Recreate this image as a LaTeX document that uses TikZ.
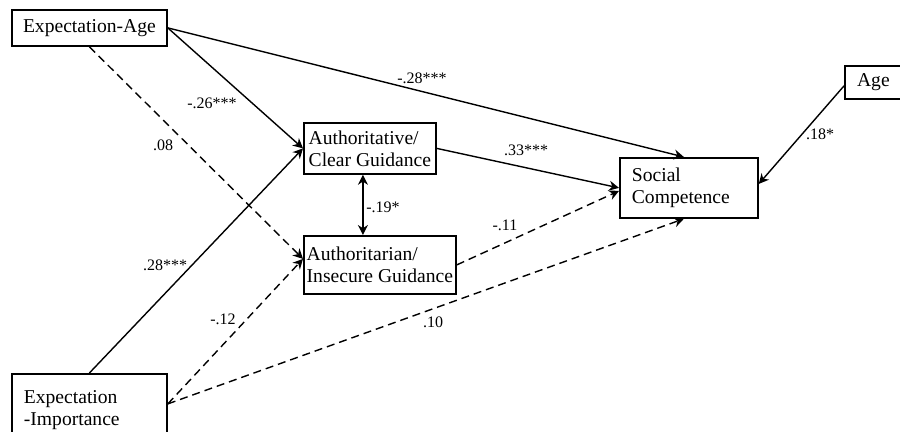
\documentclass[tikz,border=0pt]{standalone}
\usepackage{fontspec}
\setmainfont{Liberation Serif}
\usetikzlibrary{arrows.meta}

\tikzset{
  varbox/.style={draw, line width=0.9pt, inner sep=0pt, anchor=north west,
    font=\fontsize{9.8}{11}\selectfont, align=center},
  leftbox/.style={varbox, align=left, inner xsep=6pt},
  effect/.style={line width=0.7pt, -{Stealth[length=5pt,width=5pt]}},
  nseffect/.style={effect, dash pattern=on 4pt off 2.5pt},
  twoway/.style={line width=0.7pt, {Stealth[length=5pt,width=5pt]}-{Stealth[length=5pt,width=5pt]}},
  coef/.style={font=\fontsize{8}{9}\selectfont, inner sep=0pt},
}

\begin{document}
\begin{tikzpicture}[x=0.5pt,y=-0.5pt]
\clip (0,0) rectangle (900,432);

%Boxes
\node[varbox, minimum width=77.5pt, minimum height=18pt] (expage) at (11,9) {Expectation-Age};
\node[leftbox, minimum width=77.5pt, minimum height=36pt, text width=65.5pt] (expimp) at (11,373) {Expectation\\-Importance};
\node[varbox, align=left, minimum width=66pt, minimum height=25.5pt] (auth) at (303,122) {Authoritative/\\Clear Guidance};
\node[varbox, align=left, minimum width=76pt, minimum height=29pt] (autht) at (303,235) {Authoritarian/\\Insecure Guidance};
\node[leftbox, minimum width=69pt, minimum height=30pt, text width=57pt] (soccomp) at (619,157) {Social\\Competence};
\node[varbox, minimum width=28.5pt, minimum height=16.5pt] (age) at (844,65) {Age};

%Paths
\draw[effect] (expage.east) -- ([xshift=-2.5pt]soccomp.north);
\draw[effect] (expage.east) -- (auth.west);
\draw[nseffect] (expage.south) -- ([yshift=3pt]autht.west);
\draw[effect] (expimp.north) -- (auth.west);
\draw[nseffect] ([yshift=3pt]expimp.east) -- ([yshift=3pt]autht.west);
\draw[nseffect] ([yshift=3pt]expimp.east) -- ([xshift=-2.5pt]soccomp.south);
\draw[effect] (auth.east) -- (soccomp.west);
\draw[nseffect] (autht.east) -- ([yshift=-1.5pt]soccomp.west);
\coordinate (corr) at ([xshift=-3.5pt]auth.south);
\draw[twoway] (corr) -- (corr |- autht.north);
\draw[effect] ([yshift=-1.75pt]age.west) -- ([yshift=2pt]soccomp.east);

%Coefficients
\node[coef] (c1) at (422,78) {-.28***};
\node[coef] (c2) at (212,103) {-.26***};
\node[coef] (c3) at (163,145) {.08};
\node[coef] (c4) at (165,265) {.28***};
\node[coef] (c5) at (223,319) {-.12};
\node[coef] (c6) at (433,322) {.10};
\node[coef] (c7) at (526,150) {.33***};
\node[coef] (c8) at (505,225) {-.11};
\node[coef] (c9) at (383,207) {-.19*};
\node[coef] (c10) at (820,134) {.18*};
\end{tikzpicture}
\end{document}
